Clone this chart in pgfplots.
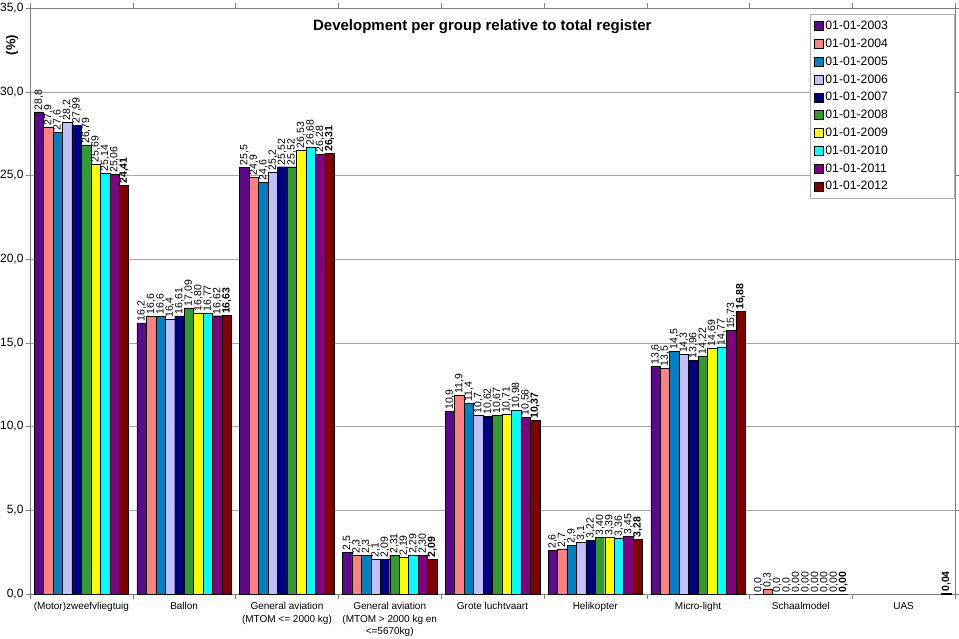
\documentclass[border=0pt]{standalone}
\usepackage{fontspec}
\setmainfont{Liberation Sans}
\usepackage{pgfplots}
\pgfplotsset{compat=1.18}

\definecolor{c03}{HTML}{5C0A8C}
\definecolor{c04}{HTML}{FF8080}
\definecolor{c05}{HTML}{0080C0}
\definecolor{c06}{HTML}{C0C0FF}
\definecolor{c07}{HTML}{000080}
\definecolor{c08}{HTML}{339933}
\definecolor{c09}{HTML}{FFFF00}
\definecolor{c10}{HTML}{00FFFF}
\definecolor{c11}{HTML}{800080}
\definecolor{c12}{HTML}{800000}

\newcommand\lpad{\hspace*{60pt}}

\begin{document}
\begin{tikzpicture}
\path[use as bounding box] (-30pt,-44pt) rectangle (929pt,594pt);
\begin{axis}[
  at={(0,0)}, anchor=south west,
  scale only axis, width=925pt, height=586pt,
  ybar=0pt, bar width=0.092,
  xmin=-0.5, xmax=8.5, ymin=0, ymax=35,
  ytick={0,5,...,35},
  yticklabel style={font=\fontsize{12}{12}\selectfont, xshift=1pt,
    /pgf/number format/fixed, /pgf/number format/fixed zerofill,
    /pgf/number format/precision=1, /pgf/number format/use comma,
    /pgf/number format/assume math mode=true},
  xtick={0,...,8},
  xticklabels={(Motor)zweefvliegtuig, Ballon, General aviation\\(MTOM <= 2000 kg), General aviation\\(MTOM > 2000 kg en\\<=5670kg), Grote luchtvaart, Helikopter, Micro-light, Schaalmodel, UAS},
  xticklabel style={align=center, font=\fontsize{10}{12.5}\selectfont, yshift=-1pt},
  minor xtick={-0.5,0.5,...,8.5},
  x tick style={draw=none}, minor x tick style={draw=gray},
  tick align=outside, major tick length=4pt, minor tick length=5pt,
  y tick style={gray},
  ymajorgrids, grid style={gray!70},
  axis line style={gray},
  clip=false,
  nodes near coords, point meta=explicit symbolic,
  every node near coord/.append style={rotate=90, anchor=west, font=\fontsize{10.5}{10.5}\selectfont, inner sep=1.5pt},
  legend style={at={(0.999,0.99)}, anchor=north east, draw=gray!60, font=\fontsize{12.2}{13}\selectfont, row sep=3.8pt, inner xsep=4pt, inner ysep=5pt},
  legend cell align=left,
  legend image code/.code={\draw[#1,draw=black] (0pt,-4.5pt) rectangle (9pt,4.5pt);},
]
\addplot[fill=c03, draw=black] coordinates {(0,28.8) [28,8] (1,16.2) [16,2] (2,25.5) [25,5] (3,2.5) [2,5] (4,10.9) [10,9] (5,2.6) [2,6] (6,13.6) [13,6] (7,0) [0,0]};
\addplot[fill=c04, draw=black] coordinates {(0,27.9) [27,9] (1,16.6) [16,6] (2,24.9) [24,9] (3,2.3) [2,3] (4,11.9) [11,9] (5,2.7) [2,7] (6,13.5) [13,5] (7,0.3) [0,3]};
\addplot[fill=c05, draw=black] coordinates {(0,27.6) [27,6] (1,16.6) [16,6] (2,24.6) [24,6] (3,2.3) [2,3] (4,11.4) [11,4] (5,2.9) [2,9] (6,14.5) [14,5] (7,0) [0,0]};
\addplot[fill=c06, draw=black] coordinates {(0,28.2) [28,2] (1,16.4) [16,4] (2,25.2) [25,2] (3,2.1) [2,1] (4,10.7) [10,7] (5,3.1) [3,1] (6,14.3) [14,3] (7,0) [0,0]};
\addplot[fill=c07, draw=black] coordinates {(0,27.99) [27,99] (1,16.61) [16,61] (2,25.52) [25,52] (3,2.09) [2,09] (4,10.62) [10,62] (5,3.22) [3,22] (6,13.96) [13,96] (7,0) [0,00]};
\addplot[fill=c08, draw=black] coordinates {(0,26.79) [26,79] (1,17.09) [17,09] (2,25.52) [25,52] (3,2.31) [2,31] (4,10.67) [10,67] (5,3.40) [3,40] (6,14.22) [14,22] (7,0) [0,00]};
\addplot[fill=c09, draw=black] coordinates {(0,25.69) [25,69] (1,16.80) [16,80] (2,26.53) [26,53] (3,2.19) [2,19] (4,10.71) [10,71] (5,3.39) [3,39] (6,14.69) [14,69] (7,0) [0,00]};
\addplot[fill=c10, draw=black] coordinates {(0,25.14) [25,14] (1,16.77) [16,77] (2,26.68) [26,68] (3,2.29) [2,29] (4,10.98) [10,98] (5,3.36) [3,36] (6,14.77) [14,77] (7,0) [0,00]};
\addplot[fill=c11, draw=black] coordinates {(0,25.06) [25,06] (1,16.62) [16,62] (2,26.28) [26,28] (3,2.30) [2,30] (4,10.56) [10,56] (5,3.45) [3,45] (6,15.73) [15,73] (7,0) [0,00]};
\addplot[fill=c12, draw=black, nodes near coords style={font=\bfseries\fontsize{10.5}{10.5}\selectfont}] coordinates {(0,24.41) [24,41] (1,16.63) [16,63] (2,26.31) [26,31] (3,2.09) [2,09] (4,10.37) [10,37] (5,3.28) [3,28] (6,16.88) [16,88] (7,0) [0,00] (8,0.04) [0,04]};
\legend{01-01-2003\lpad, 01-01-2004\lpad, 01-01-2005\lpad, 01-01-2006\lpad, 01-01-2007\lpad, 01-01-2008\lpad, 01-01-2009\lpad, 01-01-2010\lpad, 01-01-2011\lpad, 01-01-2012\lpad}
\node[xshift=-18pt, rotate=90, font=\bfseries\fontsize{13}{13}\selectfont] at (rel axis cs:0,0.937) {(\%)};
\node[font=\bfseries\fontsize{15}{16}\selectfont] at (rel axis cs:0.489,0.968) {Development per group relative to total register};
\end{axis}
\end{tikzpicture}
\end{document}
